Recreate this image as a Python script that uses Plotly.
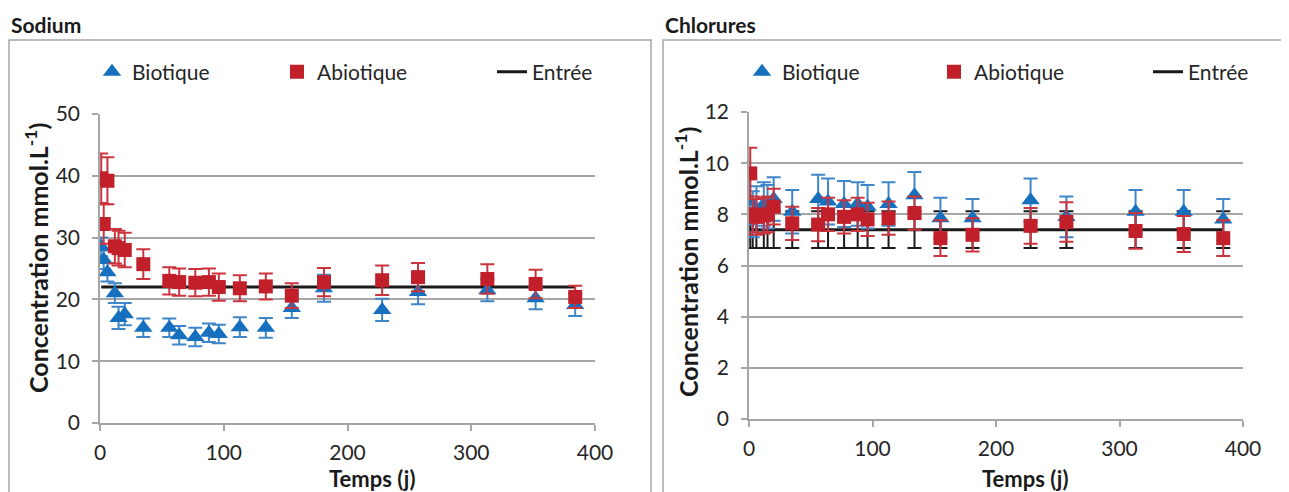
import plotly.graph_objects as go

# temps de prélèvement (jours)
temps = [1, 3, 6, 12, 15, 20, 35, 56, 64, 77, 88, 96, 113, 134, 155, 181, 228, 257, 313, 352, 384]

# Sodium (mmol/L)
na_bio = [28.5, 26.4, 24.4, 21.0, 17.0, 17.6, 15.4, 15.4, 14.2, 13.9, 14.6, 14.4, 15.5, 15.4, 18.6, 21.8, 18.3, 21.2, 21.5, 20.2, 19.1]
na_bio_err = [1.5, 1.5, 1.5, 1.6, 1.8, 1.8, 1.5, 1.5, 1.5, 1.5, 1.5, 1.5, 1.6, 1.6, 1.6, 2.2, 1.8, 2.0, 1.8, 1.8, 1.8]
na_abio = [39.6, 32.2, 39.2, 28.6, 28.3, 28.0, 25.7, 23.0, 22.8, 22.7, 22.8, 22.0, 21.8, 22.1, 20.6, 22.8, 23.1, 23.6, 23.3, 22.5, 20.4]
na_abio_err = [4.0, 3.2, 3.8, 2.8, 2.8, 2.8, 2.4, 2.2, 2.2, 2.2, 2.2, 2.2, 2.1, 2.1, 2.0, 2.3, 2.4, 2.3, 2.4, 2.3, 1.8]
na_entree = [22.0] * len(temps)

# Chlorures (mmol/L)
cl_bio = [8.5, 8.0, 8.2, 8.4, 8.3, 8.6, 8.1, 8.6, 8.5, 8.4, 8.4, 8.3, 8.4, 8.75, 7.85, 7.85, 8.55, 7.9, 8.1, 8.1, 7.8]
cl_bio_err = [0.9, 0.9, 0.9, 0.85, 0.85, 0.85, 0.85, 0.95, 0.9, 0.9, 0.85, 0.85, 0.85, 0.9, 0.8, 0.75, 0.85, 0.8, 0.85, 0.85, 0.8]
cl_abio = [9.6, 8.0, 7.9, 7.95, 8.0, 8.3, 7.65, 7.6, 8.0, 7.9, 8.0, 7.8, 7.85, 8.05, 7.07, 7.2, 7.55, 7.7, 7.35, 7.23, 7.07]
cl_abio_err = [1.0, 0.7, 0.7, 0.7, 0.7, 0.7, 0.65, 0.65, 0.65, 0.65, 0.65, 0.65, 0.65, 0.65, 0.7, 0.65, 0.7, 0.77, 0.7, 0.7, 0.7]
cl_entree = [7.4] * len(temps)
cl_entree_err = [0.72] * len(temps)

BLUE = "#1670BE"
RED = "#C1202B"
FONT = "Lato"
W, H = 1289, 492
OFF = 8  # marge par défaut du <body> de la page


def px(x):
    return (x - OFF) / W


def py(y):
    return (H - (y - OFF)) / H


fig = go.Figure()

panels = [
    dict(xa="x", ya="y", bio=na_bio, bio_e=na_bio_err, abio=na_abio, abio_e=na_abio_err,
         ent=na_entree, ent_e=None, legs=("legend2", "legend3", "legend4")),
    dict(xa="x2", ya="y2", bio=cl_bio, bio_e=cl_bio_err, abio=cl_abio, abio_e=cl_abio_err,
         ent=cl_entree, ent_e=cl_entree_err, legs=("legend5", "legend6", "legend7")),
]

for p in panels:
    fig.add_trace(go.Scatter(
        x=temps, y=p["ent"], mode="lines", name="Entrée", legend=p["legs"][2],
        line=dict(color="#1a1a1a", width=3),
        error_y=dict(type="data", array=p["ent_e"], color="#1a1a1a", thickness=2, width=7,
                     visible=p["ent_e"] is not None),
        xaxis=p["xa"], yaxis=p["ya"]))
    fig.add_trace(go.Scatter(
        x=temps, y=p["bio"], mode="markers", name="Biotique", legend=p["legs"][0],
        marker=dict(symbol="triangle-up", size=16, color=BLUE),
        error_y=dict(type="data", array=p["bio_e"], color="#3f86c8", thickness=2, width=7),
        xaxis=p["xa"], yaxis=p["ya"]))
    fig.add_trace(go.Scatter(
        x=temps, y=p["abio"], mode="markers", name="Abiotique", legend=p["legs"][1],
        marker=dict(symbol="square", size=14, color=RED),
        error_y=dict(type="data", array=p["abio_e"], color="#cc343d", thickness=2, width=7),
        xaxis=p["xa"], yaxis=p["ya"]))

axis_common = dict(
    showline=True, linecolor="#a6a6a6", linewidth=1.5, zeroline=False,
    ticks="outside", ticklen=6, tickcolor="#a6a6a6", tickwidth=1.5, automargin=False,
    tickfont=dict(family=FONT, size=21, color="#262626"),
)

fig.update_layout(
    width=W, height=H,
    margin=dict(l=0, r=0, t=0, b=0, autoexpand=False),
    showlegend=True,
    paper_bgcolor="white", plot_bgcolor="white",
    font=dict(family=FONT, size=21, color="#262626"),
    xaxis=dict(domain=[px(100), px(595)], range=[0, 400], dtick=100, showgrid=False,
               anchor="y", ticklabelstandoff=4, **axis_common),
    yaxis=dict(domain=[py(423), py(114)], range=[0, 50], dtick=10, showgrid=True,
               gridcolor="#a6a6a6", gridwidth=1.5, anchor="x", ticklabelstandoff=8,
               **axis_common),
    xaxis2=dict(domain=[px(749), px(1243)], range=[0, 400], dtick=100, showgrid=False,
                anchor="y2", ticklabelstandoff=4, **axis_common),
    yaxis2=dict(domain=[py(419), py(112)], range=[0, 12], dtick=2, showgrid=True,
                gridcolor="#a6a6a6", gridwidth=1.5, anchor="x2", ticklabelstandoff=8,
                **axis_common),
)

# légendes (une par entrée pour reproduire l'espacement)
leg_style = dict(orientation="h", yanchor="middle", xanchor="left", bgcolor="rgba(0,0,0,0)",
                 font=dict(family=FONT, size=21, color="#262626"))
leg_pos = {"legend2": 92, "legend3": 277, "legend4": 492,
           "legend5": 742, "legend6": 934, "legend7": 1148}
fig.update_layout({k: dict(x=px(v), y=py(72), **leg_style) for k, v in leg_pos.items()})

# cadres des graphiques
for x0, x1 in [(9, 651), (663, 1310)]:
    fig.add_shape(type="rect", xref="paper", yref="paper", x0=px(x0), x1=px(x1),
                  y0=py(520), y1=py(40), line=dict(color="#a6a6a6", width=1.5))

annots = [
    dict(text="<b>Sodium</b>", x=px(9), y=py(25), xanchor="left", textangle=0, size=21),
    dict(text="<b>Chlorures</b>", x=px(663), y=py(25), xanchor="left", textangle=0, size=21),
    dict(text="<b>Temps (j)</b>", x=px(372), y=py(478), xanchor="center", textangle=0, size=22),
    dict(text="<b>Temps (j)</b>", x=px(1025), y=py(478), xanchor="center", textangle=0, size=22),
    dict(text="<b>Concentration mmol.L<sup>-1</sup>)</b>", x=px(37), y=py(258), xanchor="center",
         textangle=-90, size=25),
    dict(text="<b>Concentration mmol.L<sup>-1</sup>)</b>", x=px(686), y=py(262), xanchor="center",
         textangle=-90, size=25),
]
for a in annots:
    size = a.pop("size")
    fig.add_annotation(xref="paper", yref="paper", yanchor="middle", showarrow=False,
                       font=dict(family=FONT, size=size, color="#1a1a1a"), **a)

fig.write_html("out.html")
